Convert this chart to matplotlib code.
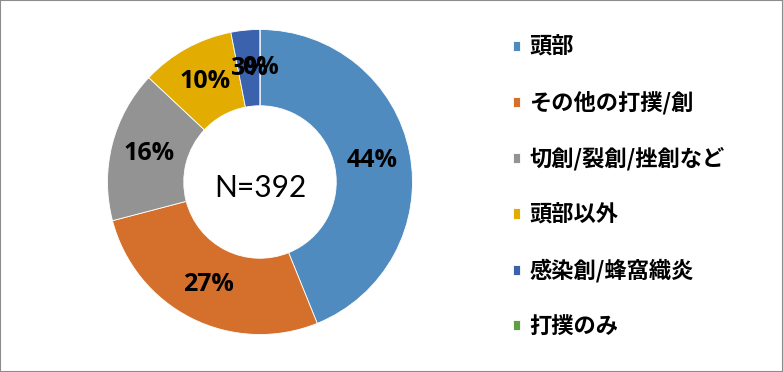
import matplotlib
matplotlib.use("Agg")
import matplotlib.pyplot as plt
from matplotlib.patches import Rectangle
from matplotlib.font_manager import FontProperties

categories = ["頭部", "その他の打撲/創", "切創/裂創/挫創など", "頭部以外", "感染創/蜂窩織炎", "打撲のみ"]
counts = [172, 106, 63, 39, 12, 0]
colors = ["#4F8BBF", "#D4702C", "#939393", "#E2AC00", "#3A62AD", "#5F9E42"]
total_label = "N=392"

fig = plt.figure(figsize=(7.83, 3.72), dpi=100)
W, H = 783, 372
cx, cy, R = 260, 182, 152.5
ax = fig.add_axes([(cx - R) / W, (H - cy - R) / H, 2 * R / W, 2 * R / H])

wedges, texts, autotexts = ax.pie(
    counts, colors=colors, startangle=90, counterclock=False, radius=1.0,
    autopct=lambda p: f"{p:.0f}%", pctdistance=0.75,
    wedgeprops=dict(width=0.5, edgecolor="white", linewidth=0.6),
    textprops=dict(fontsize=18, fontweight="bold", family=["Open Sans", "DejaVu Sans"], color="black"),
)
ax.set_xlim(-1, 1)
ax.set_ylim(-1, 1)
ax.text(0, -0.04, total_label, ha="center", va="center", fontsize=21.5,
        family=["Lato", "DejaVu Sans"])

lp = FontProperties(family=["Noto Sans CJK JP", "DejaVu Sans"], weight="bold", size=16)
fig.legend(wedges, categories, loc="upper left", bbox_to_anchor=(513 / W, 1 - 36 / H),
           frameon=False, prop=lp, handlelength=0.33, handleheight=0.33,
           handletextpad=0.4, labelspacing=1.46, borderaxespad=0, borderpad=0)

fig.patches.append(Rectangle((0, 0), 1, 1, transform=fig.transFigure, fill=False,
                             edgecolor="#8C8C8C", linewidth=1.5))
fig.savefig("out.png", dpi=100)
